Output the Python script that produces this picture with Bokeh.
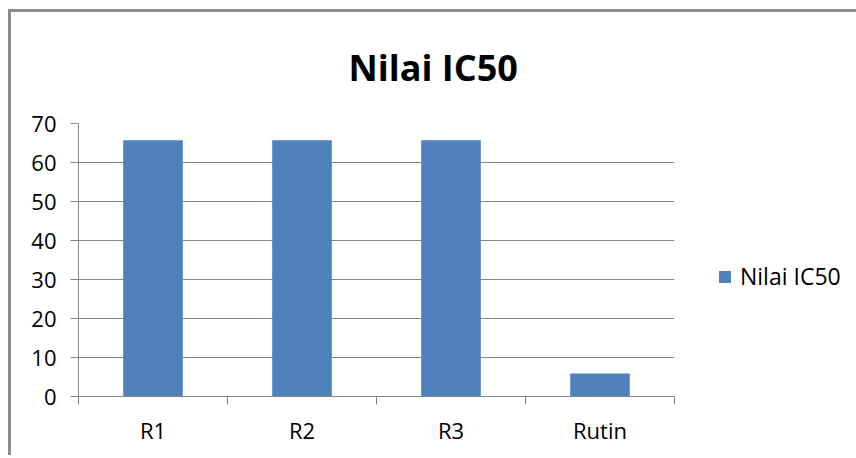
from bokeh.plotting import figure
from bokeh.models import (Range1d, FixedTicker, Legend, LegendItem, Title,
                          ColumnDataSource)
from bokeh.embed import file_html
from bokeh.resources import INLINE

categories = ["R1", "R2", "R3", "Rutin"]
values = [65.7, 65.7, 65.7, 5.9]
y_ticks = [0, 10, 20, 30, 40, 50, 60, 70]
series_name = "Nilai IC50"
title_text = "Nilai IC50"

FONT = "Open Sans"
GRAY = "#868686"
BAR = "#4F81BD"

xs = [i + 0.5 for i in range(len(categories))]
src = ColumnDataSource(dict(x=xs, top=values, cat=categories))

p = figure(frame_width=596, frame_height=273, output_backend="svg",
           toolbar_location=None,
           x_range=Range1d(0, len(categories)), y_range=Range1d(0, 70),
           min_border_left=67, min_border_right=182, min_border_top=111,
           min_border_bottom=62, tools="")
p.margin = (12, 0, 0, 11)
p.styles = {"box-shadow": "-3px -3px 0 0 #8c8c8c"}
p.outline_line_color = None
p.background_fill_color = "white"
p.border_fill_color = "white"

r = p.vbar(x="x", top="top", width=0.4, bottom=0, source=src,
           fill_color=BAR, line_color=None)

# title
t = Title(text=title_text, align="left", offset=270, vertical_align="top",
          text_font=FONT, text_font_size="36px", text_font_style="bold",
          text_color="black", standoff=60)
p.title = t
p.title_location = "above"

# y axis
ya = p.yaxis[0]
ya.ticker = FixedTicker(ticks=y_ticks)
ya.axis_line_color = GRAY
ya.major_tick_line_color = GRAY
ya.major_tick_out = 8
ya.major_tick_in = 0
ya.minor_tick_line_color = None
ya.major_label_standoff = 14
ya.major_label_text_font = FONT
ya.major_label_text_font_size = "22px"
ya.major_label_text_color = "black"

# x axis: labels at centres, ticks at boundaries
xa = p.xaxis[0]
xa.ticker = FixedTicker(ticks=xs, minor_ticks=list(range(len(categories) + 1)))
xa.major_label_overrides = {x: c for x, c in zip(xs, categories)}
xa.axis_line_color = GRAY
xa.major_tick_line_color = None
xa.major_tick_out = 0
xa.major_tick_in = 0
xa.minor_tick_line_color = GRAY
xa.minor_tick_out = 8
xa.minor_tick_in = 0
xa.major_label_standoff = 10
xa.major_label_text_font = FONT
xa.major_label_text_font_size = "22px"
xa.major_label_text_color = "black"

p.xgrid.grid_line_color = None
p.ygrid.grid_line_color = GRAY
p.ygrid.ticker = FixedTicker(ticks=y_ticks[1:])

legend = Legend(items=[LegendItem(label=series_name, renderers=[r])],
                location=(43, 104), glyph_width=15, glyph_height=15,
                label_standoff=8, padding=0, margin=0, spacing=0,
                border_line_color=None, background_fill_color=None,
                label_text_font=FONT, label_text_font_size="23px",
                label_text_color="black")
p.add_layout(legend, "right")

open("out.html", "w").write(file_html(p, INLINE))
